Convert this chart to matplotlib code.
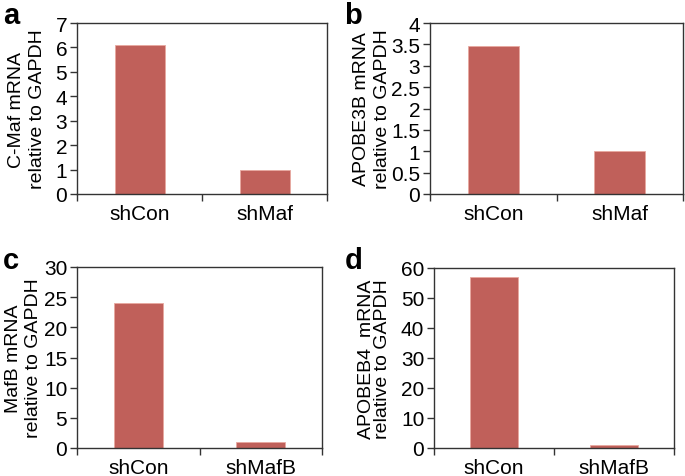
import matplotlib
matplotlib.use("Agg")
import matplotlib.pyplot as plt
from matplotlib.ticker import FixedLocator

plt.rcParams['font.family'] = ['Liberation Sans', 'DejaVu Sans']

cats_a = ["shCon", "shMaf"]
vals_a = [6.1, 1.0]
cats_b = ["shCon", "shMaf"]
vals_b = [3.47, 1.0]
cats_c = ["shCon", "shMafB"]
vals_c = [24.1, 1.0]
cats_d = ["shCon", "shMafB"]
vals_d = [57.0, 0.9]

ylabels = ["C-Maf mRNA\nrelative to GAPDH", "APOBE3B mRNA\nrelative to GAPDH",
           "MafB mRNA\nrelative to GAPDH", "APOBEB4  mRNA\nrelative to GAPDH"]
yticks_a = [0, 1, 2, 3, 4, 5, 6, 7]
yticks_b = [0, 0.5, 1, 1.5, 2, 2.5, 3, 3.5, 4]
yticklabels_b = ["0", "0.5", "1", "1.5", "2", "2.5", "3", "3.5", "4"]
yticks_c = [0, 5, 10, 15, 20, 25, 30]
yticks_d = [0, 10, 20, 30, 40, 50, 60]
letters = ["a", "b", "c", "d"]

W, H = 685, 477
fig = plt.figure(figsize=(W / 100, H / 100), dpi=100)
BAR = "#C0605A"

def px_axes(l, r, t, b):
    return fig.add_axes([l / W, (H - b) / H, (r - l) / W, (b - t) / H])

boxes = [(77, 327, 24, 195), (430, 683, 24, 195), (77, 322, 268, 449), (434, 674, 269, 449)]
data = [(cats_a, vals_a, yticks_a, None), (cats_b, vals_b, yticks_b, yticklabels_b),
        (cats_c, vals_c, yticks_c, None), (cats_d, vals_d, yticks_d, None)]
letter_pos = [(3, 24), (344, 24), (3, 269), (345, 269)]
label_right_px = [46, 391, 42, 391]
label_spacing = [1.3, 1.3, 1.25, 0.95]

for i, (box, (cats, vals, yt, ytl)) in enumerate(zip(boxes, data)):
    ax = px_axes(*box)
    x = list(range(len(cats)))
    ax.bar(x, vals, width=0.4, color=BAR, edgecolor="#E8A8A0", linewidth=0.6)
    ax.set_xlim(-0.5, len(cats) - 0.5)
    ax.set_ylim(yt[0], yt[-1])
    ax.set_yticks(yt)
    if ytl is not None:
        ax.set_yticklabels(ytl)
    ax.set_xticks(x)
    ax.set_xticklabels(cats)
    ax.xaxis.set_minor_locator(FixedLocator([-0.5, 0.5, len(cats) - 0.5]))
    ax.tick_params(axis='x', which='major', length=0, labelsize=15, pad=7)
    ax.tick_params(axis='x', which='minor', length=5, width=1, direction='out', color='#333333')
    ax.tick_params(axis='y', length=5, width=1, direction='out', labelsize=15, pad=2, color='#333333')
    for s in ax.spines.values():
        s.set_linewidth(1.0)
        s.set_color('#333333')
    ax.set_ylabel(ylabels[i], fontsize=14, linespacing=label_spacing[i])
    l, r, t, b = box
    ax.yaxis.set_label_coords((label_right_px[i] - l) / (r - l), 0.5)
    lx, ly = letter_pos[i]
    fig.text(lx / W, 1 - ly / H, letters[i], fontsize=21, fontweight='bold', ha='left', va='baseline')

fig.savefig("out.png", dpi=100)
